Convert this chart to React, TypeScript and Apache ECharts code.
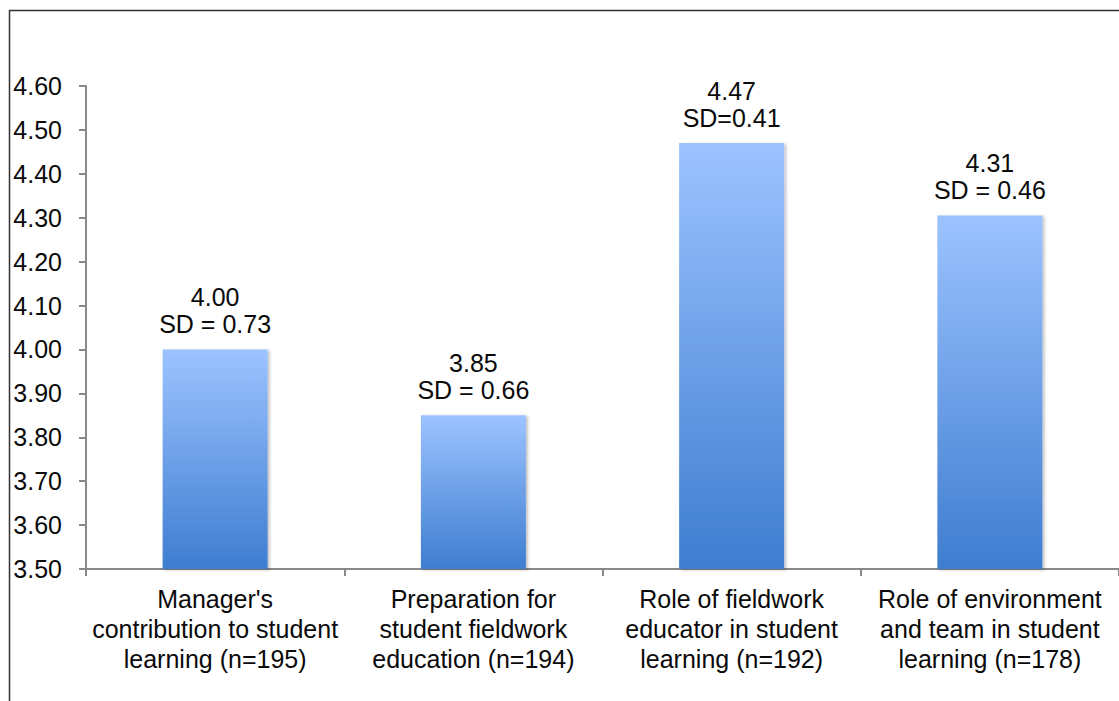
import React, { useEffect, useRef } from "react";
import * as echarts from "echarts";

const categories = [
  "Manager's\ncontribution to student\nlearning (n=195)",
  "Preparation for\nstudent fieldwork\neducation (n=194)",
  "Role of fieldwork\neducator in student\nlearning (n=192)",
  "Role of environment\nand team in student\nlearning (n=178)",
];
const means = [4.0, 3.85, 4.47, 4.305];
const meanLabels = ["4.00", "3.85", "4.47", "4.31"];
const sdLabels = ["SD = 0.73", "SD = 0.66", "SD=0.41", "SD = 0.46"];
const yMin = 3.5;
const yMax = 4.6;
const yStep = 0.1;

export default function App() {
  const ref = useRef<HTMLDivElement>(null);
  useEffect(() => {
    const chart = echarts.init(ref.current!, null, { renderer: "svg" });
    const font = "'Liberation Sans', Arial, sans-serif";
    chart.setOption({
      animation: false,
      backgroundColor: "#ffffff",
      graphic: [
        {
          type: "rect",
          shape: { x: 9.5, y: 10.5, width: 1300, height: 900 },
          style: { fill: "none", stroke: "#333333", lineWidth: 1.5 },
          silent: true,
          z: 100,
        },
      ],
      grid: { left: 86, top: 86, width: 1036, height: 483, containLabel: false },
      xAxis: {
        type: "category",
        data: categories,
        axisLine: { lineStyle: { color: "#898989", width: 2 } },
        axisTick: { show: true, length: 7, lineStyle: { color: "#898989", width: 2 } },
        axisLabel: {
          interval: 0,
          margin: 15,
          color: "#0a0a0a",
          fontFamily: font,
          fontSize: 25,
          lineHeight: 30,
        },
        splitLine: { show: false },
      },
      yAxis: {
        type: "value",
        min: yMin,
        max: yMax,
        interval: yStep,
        axisLine: { show: true, lineStyle: { color: "#898989", width: 2 } },
        axisTick: { show: true, length: 7, lineStyle: { color: "#898989", width: 2 } },
        splitLine: { show: false },
        axisLabel: {
          margin: 24,
          color: "#0a0a0a",
          fontFamily: font,
          fontSize: 25,
          formatter: (v: number) => v.toFixed(2),
        },
      },
      series: [
        {
          type: "bar",
          data: means,
          barWidth: 105,
          itemStyle: {
            color: new echarts.graphic.LinearGradient(0, 0, 0, 1, [
              { offset: 0, color: "#9CC3FF" },
              { offset: 1, color: "#3E7DD0" },
            ]),
            shadowColor: "rgba(0,0,0,0.25)",
            shadowBlur: 3,
            shadowOffsetX: 2,
            shadowOffsetY: 1,
          },
          label: {
            show: true,
            position: "top",
            distance: 12,
            color: "#0a0a0a",
            fontFamily: font,
            fontSize: 25,
            lineHeight: 27,
            align: "center",
            formatter: (p: any) => meanLabels[p.dataIndex] + "\n" + sdLabels[p.dataIndex],
          },
        },
      ],
    });
    return () => chart.dispose();
  }, []);
  return (
    <div
      ref={ref}
      style={{ position: "absolute", left: 0, top: 0, width: 1119, height: 701 }}
    />
  );
}
